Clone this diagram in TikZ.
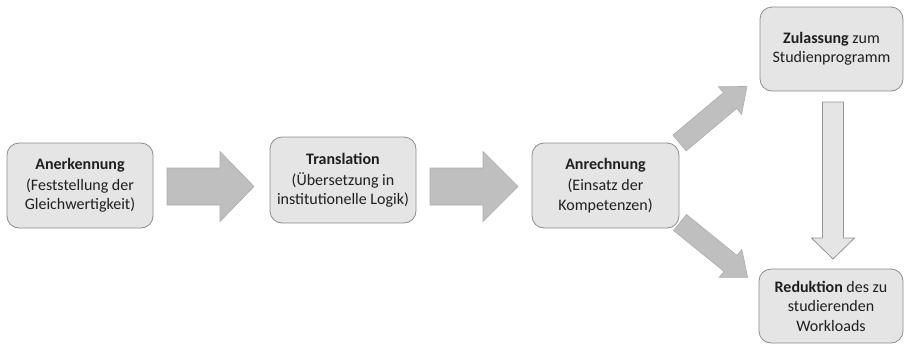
\documentclass[tikz,border=0pt]{standalone}
\usepackage{fontspec}
\setmainfont{Carlito}
\begin{document}
\begin{tikzpicture}[x=1pt,y=-1pt,
  box/.style={draw=black!45, fill=black!10, line width=0.8pt, rounded corners=12pt,
    align=center, inner sep=2pt, text=black!88,
    font=\fontsize{16pt}{19.5pt}\selectfont},
  bigarrow/.style={fill=black!25, draw=black!32, line width=0.6pt},
  lightarrow/.style={fill=black!10, draw=black!42, line width=0.8pt}]
\newcommand{\blockarrow}[7]{%
  \begin{scope}[shift={#2}, rotate=#3]
    \draw[#1] (0,-#5) -- ({#4-#7},-#5) -- ({#4-#7},-#6) -- (#4,0) -- ({#4-#7},#6) -- ({#4-#7},#5) -- (0,#5) -- cycle;
  \end{scope}}
\useasboundingbox (0,0) rectangle (905,354);
% boxes
\node[box, minimum width=146pt, minimum height=85pt] (b1) at (80,185.5)
  {\textbf{Anerkennung}\\[1.5pt](Feststellung der\\Gleichwertigkeit)};
\node[box, minimum width=146pt, minimum height=86pt] (b2) at (343,180)
  {\textbf{Translation}\\[1.5pt](Übersetzung in\\institutionelle Logik)};
\node[box, minimum width=147pt, minimum height=85pt] (b3) at (605.5,185.5)
  {\textbf{Anrechnung}\\[1.5pt](Einsatz der\\Kompetenzen)};
\node[box, minimum width=143pt, minimum height=84pt] (b4) at (831.5,49)
  {\textbf{Zulassung} zum\\Studienprogramm};
\node[box, minimum width=144pt, minimum height=74pt] (b5) at (831,306)
  {\textbf{Reduktion} des zu\\studierenden\\Workloads};
% block arrows
\blockarrow{bigarrow}{(167,186.5)}{0}{87}{18.5}{35}{34}
\blockarrow{bigarrow}{(430,186.5)}{0}{88}{18.5}{35}{35}
\blockarrow{bigarrow}{(679.5,143)}{40}{88}{10.3}{18}{22}
\blockarrow{bigarrow}{(680,222.5)}{-39}{87}{10.3}{18}{22}
\blockarrow{lightarrow}{(833,102)}{-90}{157}{10.5}{21.5}{21}
\end{tikzpicture}
\end{document}
